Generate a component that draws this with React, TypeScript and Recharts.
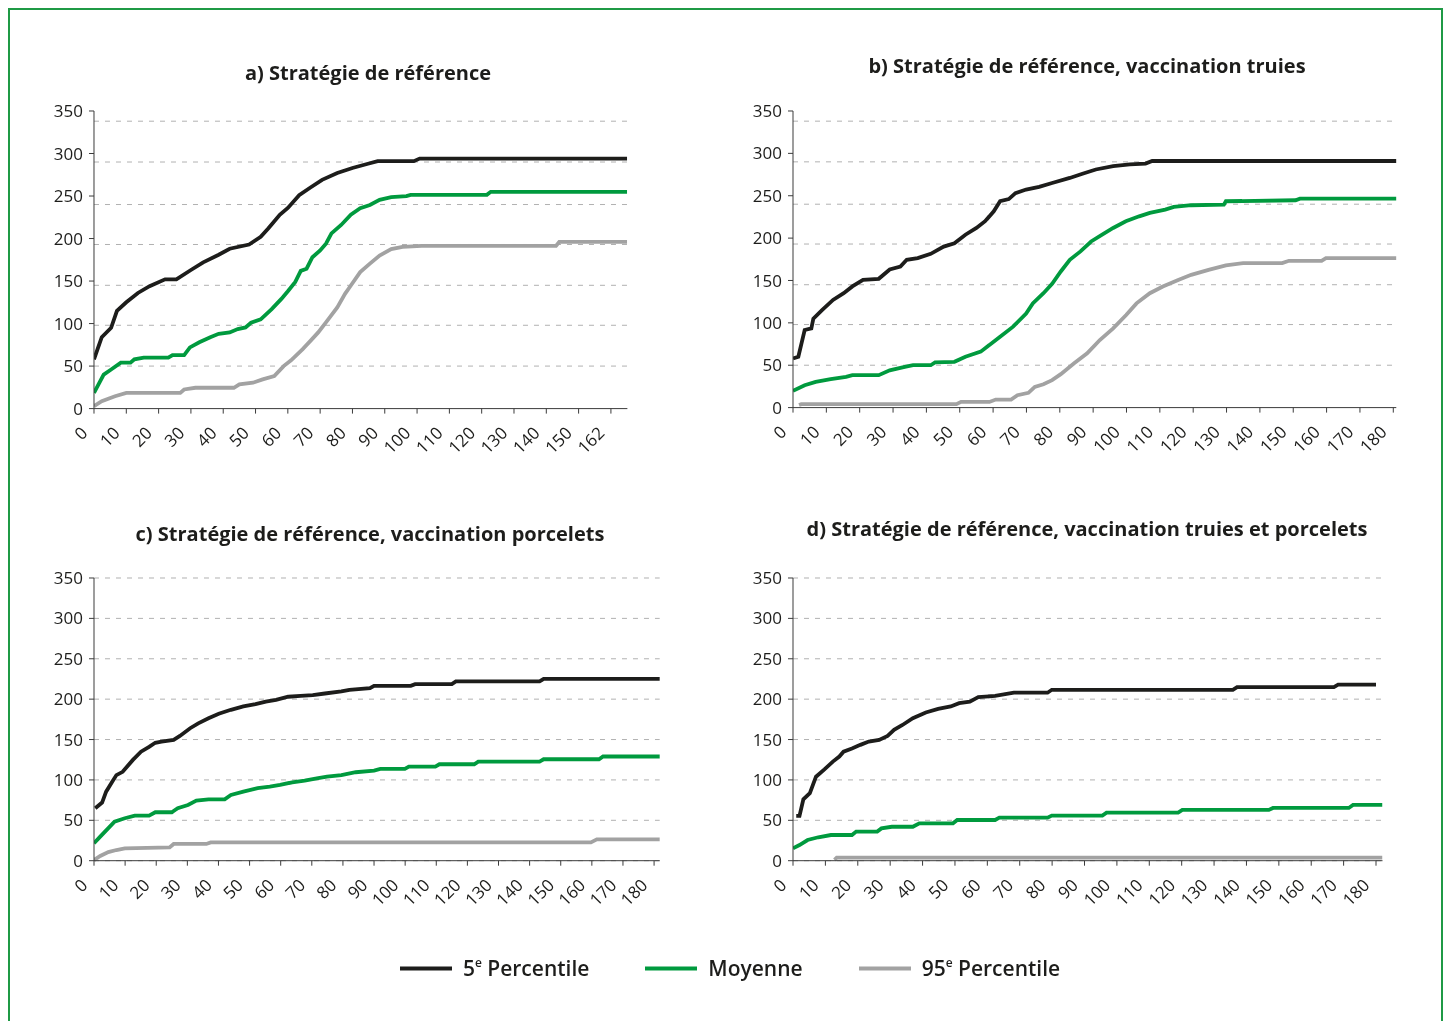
import React from 'react';
import { LineChart, Line, XAxis, YAxis, CartesianGrid } from 'recharts';

type Pt = [number, number];

// ---------- tick labels ----------
const Y_TICKS = [0, 50, 100, 150, 200, 250, 300, 350];
const X_TICKS_A = [0, 10, 20, 30, 40, 50, 60, 70, 80, 90, 100, 110, 120, 130, 140, 150, 160];
const X_LABELS_A = ['0', '10', '20', '30', '40', '50', '60', '70', '80', '90', '100', '110', '120', '130', '140', '150', '162'];
const X_TICKS_180 = [0, 10, 20, 30, 40, 50, 60, 70, 80, 90, 100, 110, 120, 130, 140, 150, 160, 170, 180];
const X_LABELS_180 = ['0', '10', '20', '30', '40', '50', '60', '70', '80', '90', '100', '110', '120', '130', '140', '150', '160', '170', '180'];
// dashed grid values in panels a and b (not aligned with the ticks in the original)
const GRID_AB = [50, 98, 145, 193, 240, 290, 338];

// ---------- titles ----------
const TITLES = [
  'a) Stratégie de référence',
  'b) Stratégie de référence, vaccination truies',
  'c) Stratégie de référence, vaccination porcelets',
  'd) Stratégie de référence, vaccination truies et porcelets',
];

// ---------- series ----------
const SERIES = [
  { key: 'p5', pre: '5', sup: 'e', post: ' Percentile', color: '#1d1d1b' },
  { key: 'mean', pre: 'Moyenne', sup: '', post: '', color: '#009a3e' },
  { key: 'p95', pre: '95', sup: 'e', post: ' Percentile', color: '#a2a2a2' },
];

// ---------- panel a ----------
const A_P5: Pt[] = [[0, 58], [2.4, 84], [5.3, 95], [7.1, 115], [10, 125], [13.6, 136], [17.2, 144], [22, 152], [25.5, 152], [30, 163], [33.8, 172], [38.6, 181], [42, 188], [48, 193], [51.6, 202], [54, 212], [57.5, 228], [60, 236], [63.5, 251], [67, 260], [70.6, 269], [75.3, 277], [80, 283], [84.8, 288], [87.8, 291], [99, 291], [100.8, 294], [165, 294]];
const A_MEAN: Pt[] = [[0, 18.5], [3, 40], [5.3, 46], [8.3, 54], [11.3, 54], [12.5, 58], [15.4, 60], [23, 60], [24.3, 63], [27.9, 63], [29.7, 72], [32.6, 78], [36, 84], [38.6, 88], [42, 89.6], [44.5, 93.5], [46.9, 95.5], [48.6, 101], [51.6, 105], [55, 117], [58, 129], [60, 138], [62.3, 149], [64, 162], [65.8, 164.5], [67.6, 178], [70, 186], [71.8, 194], [73.5, 206], [76.5, 216], [79.5, 228], [82.4, 235.6], [85.4, 239.5], [88.4, 245.5], [92, 248.6], [96.7, 250], [98, 251.4], [121.6, 251.4], [122.8, 255], [165, 255]];
const A_P95: Pt[] = [[0, 3], [2.4, 8.7], [6.5, 14.6], [10, 18.5], [26.7, 18.5], [27.9, 22.5], [31.4, 24.5], [43.3, 24.5], [45, 28.4], [49.2, 30.4], [52.2, 34.3], [55.8, 38.3], [58.7, 50], [61, 56.8], [64.6, 70], [67, 79.7], [69.4, 89.6], [71.8, 101.4], [75.3, 119], [77.7, 135], [79.5, 144.8], [82.4, 160.6], [85.4, 170.5], [88.4, 180], [92, 187.5], [95.5, 190.2], [101.4, 191.4], [143, 191.4], [144, 196], [165, 196]];

// ---------- panel b ----------
const B_P5: Pt[] = [[0, 58], [1.6, 60], [3.5, 91.6], [5.5, 93.5], [6.1, 105], [8.7, 115], [12, 127], [15.2, 135], [17.8, 143], [21, 150.7], [25.7, 152], [29, 163], [32.2, 166.5], [34.1, 174.4], [37.4, 176.4], [41.3, 181.5], [45.2, 190], [48.4, 194], [51.7, 204], [55, 212], [57.6, 220], [60.2, 231.6], [62.1, 243.5], [64.7, 246], [66.7, 253], [69.9, 257.3], [73.8, 260.5], [77.7, 265], [83, 271], [86.8, 276], [90.8, 281], [96, 285], [101, 287], [105.7, 288], [107.7, 291], [181, 291]];
const B_MEAN: Pt[] = [[0, 19.7], [3.5, 26.4], [6.8, 30.4], [11.3, 33.5], [15.9, 36.3], [17.8, 38.3], [25.7, 38.3], [29, 44], [33.5, 48], [36, 50], [41.3, 50], [42.6, 53.3], [48.4, 54], [51.7, 60], [56.3, 66], [58.2, 71.8], [62.1, 83.7], [66, 95.5], [69.9, 111], [71.9, 123], [75.1, 135], [77.7, 146], [80.3, 160.6], [83, 174.4], [86.2, 184.3], [89.4, 196], [92.7, 204], [96, 212], [99.8, 219.8], [103.8, 225.7], [107, 229.7], [111.6, 233.6], [114.2, 236.8], [119.4, 238.8], [129.2, 239.5], [129.8, 243.5], [150.7, 244.7], [152, 246.6], [181, 246.6]];
const B_P95: Pt[] = [[1.8, 3], [2.5, 4], [49, 4], [50.4, 6.7], [58.9, 6.7], [60.8, 9.5], [65.4, 9.5], [67.3, 14.6], [70.6, 17.4], [72.5, 24.5], [75.1, 27.6], [77.7, 32.4], [80.3, 39.5], [84.2, 52], [88.2, 64], [92, 79.7], [96, 93.5], [99.9, 109.3], [103, 123], [107, 135], [110.9, 142.9], [115.5, 150.7], [119.4, 156.7], [124.6, 162.6], [129.8, 167.7], [135, 170.5], [146.7, 170.5], [148.7, 173.2], [158.5, 173.2], [159.8, 176.4], [181, 176.4]];

// ---------- panel c ----------
const C_P5: Pt[] = [[0.4, 65], [2.6, 72], [3.9, 85.5], [5.9, 98], [7.2, 106], [9.2, 110], [12.5, 124.8], [15.1, 135], [17.7, 141], [19.7, 146], [21.7, 147.5], [25.6, 149.6], [27.6, 154.5], [30.9, 164], [33.5, 170], [36.8, 176.4], [40.1, 182], [44, 186.8], [48, 191], [51.9, 193.8], [55.2, 197], [58.5, 199], [62.4, 203], [66.4, 204], [70.3, 205], [74.2, 207], [79.5, 209.5], [82.1, 211.6], [88.7, 213.6], [90, 216.5], [101.8, 216.5], [103.2, 218.6], [115, 218.6], [116.3, 222], [143.2, 222], [144.5, 225], [182, 225]];
const C_MEAN: Pt[] = [[0, 21.5], [2, 29.8], [6.6, 48.3], [9.9, 52.5], [13.1, 55.8], [17.7, 55.8], [19.7, 60], [25, 60], [26.9, 64.9], [30.2, 69], [32.9, 74.4], [36.8, 76], [42, 76], [44, 81.4], [48, 85.5], [52.6, 89.7], [56.5, 91.7], [59.8, 93.8], [63.7, 97], [67.7, 99], [71.6, 102], [74.9, 104], [79.5, 106], [84.1, 109.5], [90, 111.6], [92, 113.6], [99.9, 113.6], [101.2, 116.5], [109.7, 116.5], [111, 119.4], [122.2, 119.4], [123.5, 122.7], [143.2, 122.7], [144.5, 125.6], [162.3, 125.6], [163.6, 129], [182, 129]];
const C_P95: Pt[] = [[0, 0.8], [2, 5.8], [4.6, 10.7], [7.2, 13.2], [9.9, 15.3], [24.3, 16.5], [25.6, 20.7], [36.1, 20.7], [37.5, 22.7], [159.7, 22.7], [161.6, 26.4], [182, 26.4]];

// ---------- panel d ----------
const D_P5: Pt[] = [[1, 55.4], [2, 55.4], [3.2, 76], [5.2, 83.5], [7.1, 104], [9.7, 113], [12.3, 122.7], [14.3, 129], [15.6, 135], [18.2, 139], [20.8, 143.4], [23.4, 147.5], [26.6, 149.6], [29.2, 154.5], [31.2, 162], [33.8, 168], [37, 176.4], [41, 183.5], [44.8, 188], [48.7, 191], [51.3, 195], [54.6, 197], [57.2, 202.5], [62.4, 204], [68.2, 208], [78.6, 208], [79.9, 211.6], [135.8, 211.6], [137.1, 215], [167, 215], [168.3, 218], [180, 218]];
const D_MEAN: Pt[] = [[0, 15.3], [2, 19.4], [4.5, 25.6], [7.8, 29], [11.7, 31.8], [18.2, 31.8], [19.5, 36], [26, 36], [27.3, 40], [30.5, 42], [37, 42], [39, 46.3], [49.4, 46.3], [50.7, 50.4], [62.4, 50.4], [63.7, 53.3], [78.6, 53.3], [79.9, 55.8], [95.5, 55.8], [96.8, 59.5], [118.9, 59.5], [120.2, 62.8], [146.9, 62.8], [148.2, 65.3], [171.6, 65.3], [172.9, 69], [182, 69]];
const D_P95: Pt[] = [[12.8, 1], [13.5, 3.7], [182, 3.7]];

const FONT = '"Open Sans", "Noto Sans", sans-serif';
const TEXT = '#1d1d1b';

function toData(pts: Pt[]) {
  return pts.map(([d, v]) => ({ d, v }));
}

function XTick(props: any) {
  const { x, y, payload, ticks, labels } = props;
  const i = ticks.indexOf(payload.value);
  const label = i >= 0 ? labels[i] : String(payload.value);
  const tx = x - 10;
  const ty = y + 16;
  return (
    <text
      x={tx}
      y={ty}
      transform={`rotate(-45 ${tx} ${ty})`}
      textAnchor="end"
      dominantBaseline="central"
      fontSize={17}
      fill={TEXT}
      fontFamily={FONT}
    >
      {label}
    </text>
  );
}

type PanelProps = {
  title: string;
  titleX: number;
  titleY: number;
  left: number;
  top: number;
  plotW: number;
  plotH: number;
  xMax: number;
  xTicks: number[];
  xLabels: string[];
  gridValues?: number[];
  p5: Pt[];
  mean: Pt[];
  p95: Pt[];
};

function Panel(p: PanelProps) {
  const YW = 60;
  const MT = 20;
  const MR = 10;
  const XH = 60;
  const width = YW + p.plotW + MR;
  const height = MT + p.plotH + XH;
  const gridProps: any = p.gridValues ? { horizontalValues: p.gridValues } : {};
  return (
    <>
      <div
        style={{
          position: 'absolute',
          left: p.titleX - 8,
          top: p.titleY - 8,
          transform: 'translate(-50%, -50%)',
          whiteSpace: 'nowrap',
          fontFamily: FONT,
          fontWeight: 700,
          fontSize: 20,
          lineHeight: 1,
          color: TEXT,
        }}
      >
        {p.title}
      </div>
      <div style={{ position: 'absolute', left: p.left - 8 - YW, top: p.top - 8 - MT }}>
        <LineChart width={width} height={height} margin={{ top: MT, right: MR, bottom: 0, left: 0 }}>
          <CartesianGrid vertical={false} stroke="#b1b1b1" strokeDasharray="5 6" {...gridProps} />
          <XAxis
            dataKey="d"
            type="number"
            domain={[0, p.xMax]}
            ticks={p.xTicks}
            interval={0}
            allowDataOverflow
            height={XH}
            tickSize={5}
            tickMargin={0}
            stroke="#3a3a3a"
            tick={(tp: any) => <XTick {...tp} ticks={p.xTicks} labels={p.xLabels} />}
          />
          <YAxis
            type="number"
            domain={[0, 350]}
            ticks={Y_TICKS}
            interval={0}
            width={YW}
            tickSize={5}
            tickMargin={6}
            stroke="#3a3a3a"
            tick={{ fill: TEXT, fontSize: 17, fontFamily: FONT }}
          />
          <Line data={toData(p.p95)} dataKey="v" name={SERIES[2].key} stroke={SERIES[2].color} strokeWidth={3.8} dot={false} isAnimationActive={false} type="linear" />
          <Line data={toData(p.mean)} dataKey="v" name={SERIES[1].key} stroke={SERIES[1].color} strokeWidth={3.8} dot={false} isAnimationActive={false} type="linear" />
          <Line data={toData(p.p5)} dataKey="v" name={SERIES[0].key} stroke={SERIES[0].color} strokeWidth={3.8} dot={false} isAnimationActive={false} type="linear" />
        </LineChart>
      </div>
    </>
  );
}

export default function App() {
  return (
    <div style={{ position: 'relative', width: 1434, height: 1000, fontFamily: FONT }}>
      <div
        style={{
          position: 'fixed',
          left: 8,
          top: 8,
          width: 1435,
          height: 1040,
          boxSizing: 'border-box',
          border: '2px solid #1f9a45',
        }}
      />
      <Panel title={TITLES[0]} titleX={368} titleY={73} left={94.3} top={110.7} plotW={533.4} plotH={297.6} xMax={165.1} xTicks={X_TICKS_A} xLabels={X_LABELS_A} gridValues={GRID_AB} p5={A_P5} mean={A_MEAN} p95={A_P95} />
      <Panel title={TITLES[1]} titleX={1087} titleY={66} left={792.7} top={110.7} plotW={603.3} plotH={296.6} xMax={180.9} xTicks={X_TICKS_180} xLabels={X_LABELS_180} gridValues={GRID_AB} p5={B_P5} mean={B_MEAN} p95={B_P95} />
      <Panel title={TITLES[2]} titleX={370} titleY={534} left={94.3} top={578} plotW={565.7} plotH={282.7} xMax={181.8} xTicks={X_TICKS_180} xLabels={X_LABELS_180} p5={C_P5} mean={C_MEAN} p95={C_P95} />
      <Panel title={TITLES[3]} titleX={1087} titleY={529} left={793} top={578} plotW={589.5} plotH={282.7} xMax={182} xTicks={X_TICKS_180} xLabels={X_LABELS_180} p5={D_P5} mean={D_MEAN} p95={D_P95} />
      <div
        style={{
          position: 'absolute',
          left: 0,
          width: 1444,
          top: 968 - 8,
          transform: 'translateY(-50%)',
          display: 'flex',
          justifyContent: 'center',
          alignItems: 'center',
          gap: 56,
          fontSize: 21,
          fontWeight: 600,
          color: TEXT,
          lineHeight: 1,
        }}
      >
        {SERIES.map((s) => (
          <div key={s.key} style={{ display: 'flex', alignItems: 'center' }}>
            <div style={{ width: 52, height: 4, background: s.color, marginRight: 11 }} />
            <span>
              {s.pre}
              {s.sup ? <sup style={{ fontSize: 12, verticalAlign: 'top', position: 'relative', top: -1 }}>{s.sup}</sup> : null}
              {s.post}
            </span>
          </div>
        ))}
      </div>
    </div>
  );
}
